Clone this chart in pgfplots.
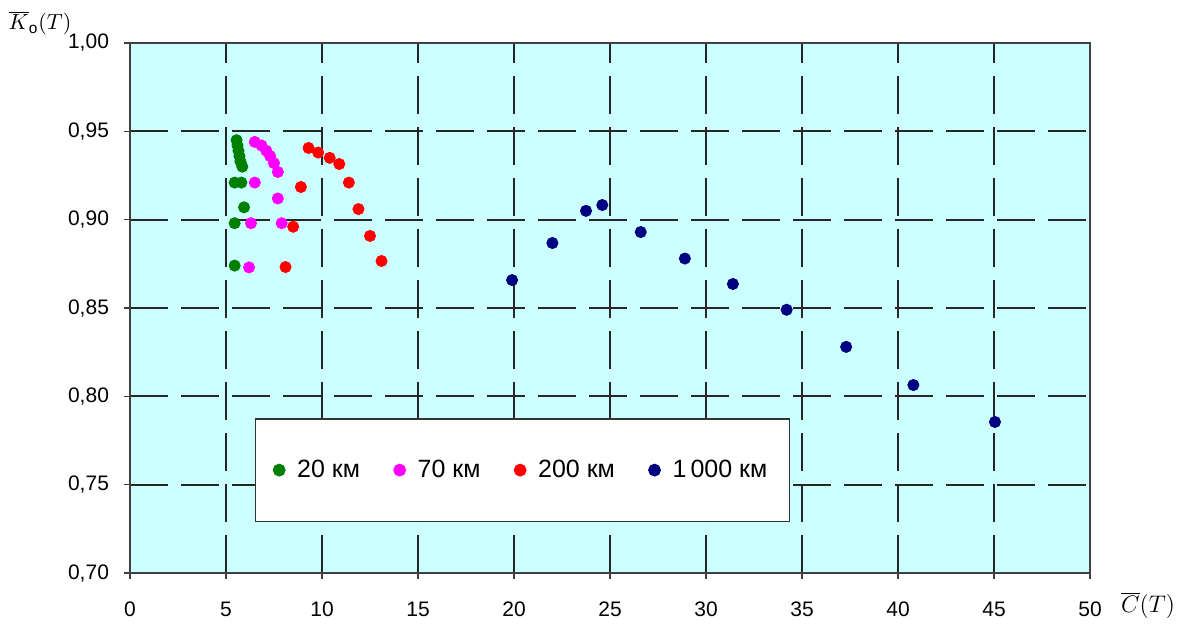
\documentclass[border=0pt]{standalone}
\usepackage{pgfplots}
\pgfplotsset{compat=1.18}
\usepackage{fontspec}
\setmainfont{Liberation Sans}
\definecolor{bgcyan}{RGB}{204,255,255}
\definecolor{cgreen}{RGB}{0,128,0}
\definecolor{cmag}{RGB}{255,0,255}
\definecolor{cred}{RGB}{255,0,0}
\definecolor{cnavy}{RGB}{0,0,128}
\begin{document}
\begin{tikzpicture}
\begin{axis}[
  scale only axis,
  width=480pt, height=265pt,
  xmin=0, xmax=50, ymin=0.70, ymax=1.00,
  xtick={0,5,...,50},
  ytick={0.70,0.75,...,1.00},
  axis background/.style={fill=bgcyan},
  axis line style={draw=black!75, line width=1pt},
  tick style={draw=black!75, line width=0.8pt},
  tick align=outside,
  major tick length=3pt,
  xtick pos=bottom, ytick pos=left,
  grid=major,
  major grid style={draw=black!85, line width=1pt, dash pattern=on 19pt off 6.5pt},
  /pgf/number format/assume math mode=true,
  yticklabel style={/pgf/number format/.cd, fixed, fixed zerofill, precision=2, use comma, /tikz/.cd, font=\fontsize{10.5}{12}\selectfont, xshift=-4pt},
  xticklabel style={font=\fontsize{10.5}{12}\selectfont, yshift=-8pt},
  legend columns=4,
  legend style={at={(axis cs:6.5,0.7877)}, anchor=north west, draw=black!80, line width=0.8pt, fill=white,
    font=\fontsize{12.5}{14}\selectfont, inner xsep=9pt, inner ysep=18.5pt,
    /tikz/every even column/.append style={column sep=15pt}},
  legend image code/.code={\draw[#1] plot coordinates {(0pt,0pt)}; \path[draw=none, fill=none] (0pt,0pt) -- (7pt,0pt);},
  every axis plot/.append style={only marks, mark=*, mark size=2.8pt},
]
\addplot[cgreen, mark options={draw=cgreen, fill=cgreen}] coordinates {
(5.55,0.945)(5.6,0.942)(5.65,0.939)(5.7,0.936)(5.75,0.933)(5.85,0.930)
(5.45,0.921)(5.8,0.921)(5.94,0.907)(5.45,0.898)(5.45,0.874)};
\addlegendentry{20 км}
\addplot[cmag, mark options={draw=cmag, fill=cmag}] coordinates {
(6.5,0.944)(6.85,0.942)(7.1,0.939)(7.3,0.936)(7.5,0.932)(7.7,0.927)
(6.5,0.921)(7.7,0.912)(6.3,0.898)(7.9,0.898)(6.2,0.873)};
\addlegendentry{70 км}
\addplot[cred, mark options={draw=cred, fill=cred}] coordinates {
(9.3,0.9406)(9.8,0.938)(10.4,0.935)(10.9,0.9315)(11.4,0.921)(8.9,0.9185)
(11.9,0.906)(8.5,0.896)(12.5,0.8908)(13.1,0.8766)(8.1,0.8732)};
\addlegendentry{200 км}
\addplot[cnavy, mark options={draw=cnavy, fill=cnavy}] coordinates {
(19.9,0.8658)(22.0,0.8868)(23.75,0.905)(24.6,0.9083)(26.6,0.893)(28.9,0.878)
(31.4,0.8636)(34.2,0.849)(37.3,0.828)(40.8,0.8064)(45.05,0.7855)};
\addlegendentry{1\,000 км}
\end{axis}
\node[font=\fontsize{11}{13}\selectfont] at ([xshift=-45pt,yshift=10pt]current axis.north west) {$\overline{K}_{\mathrm{o}}(T)$};
\node[font=\fontsize{12}{14}\selectfont] at ([xshift=29pt,yshift=-16pt]current axis.south east) {$\overline{C}(T)$};
\path[use as bounding box] ([xshift=-65pt,yshift=-24pt]current axis.south west) rectangle ([xshift=47pt,yshift=21.5pt]current axis.north east);
\end{tikzpicture}
\end{document}
